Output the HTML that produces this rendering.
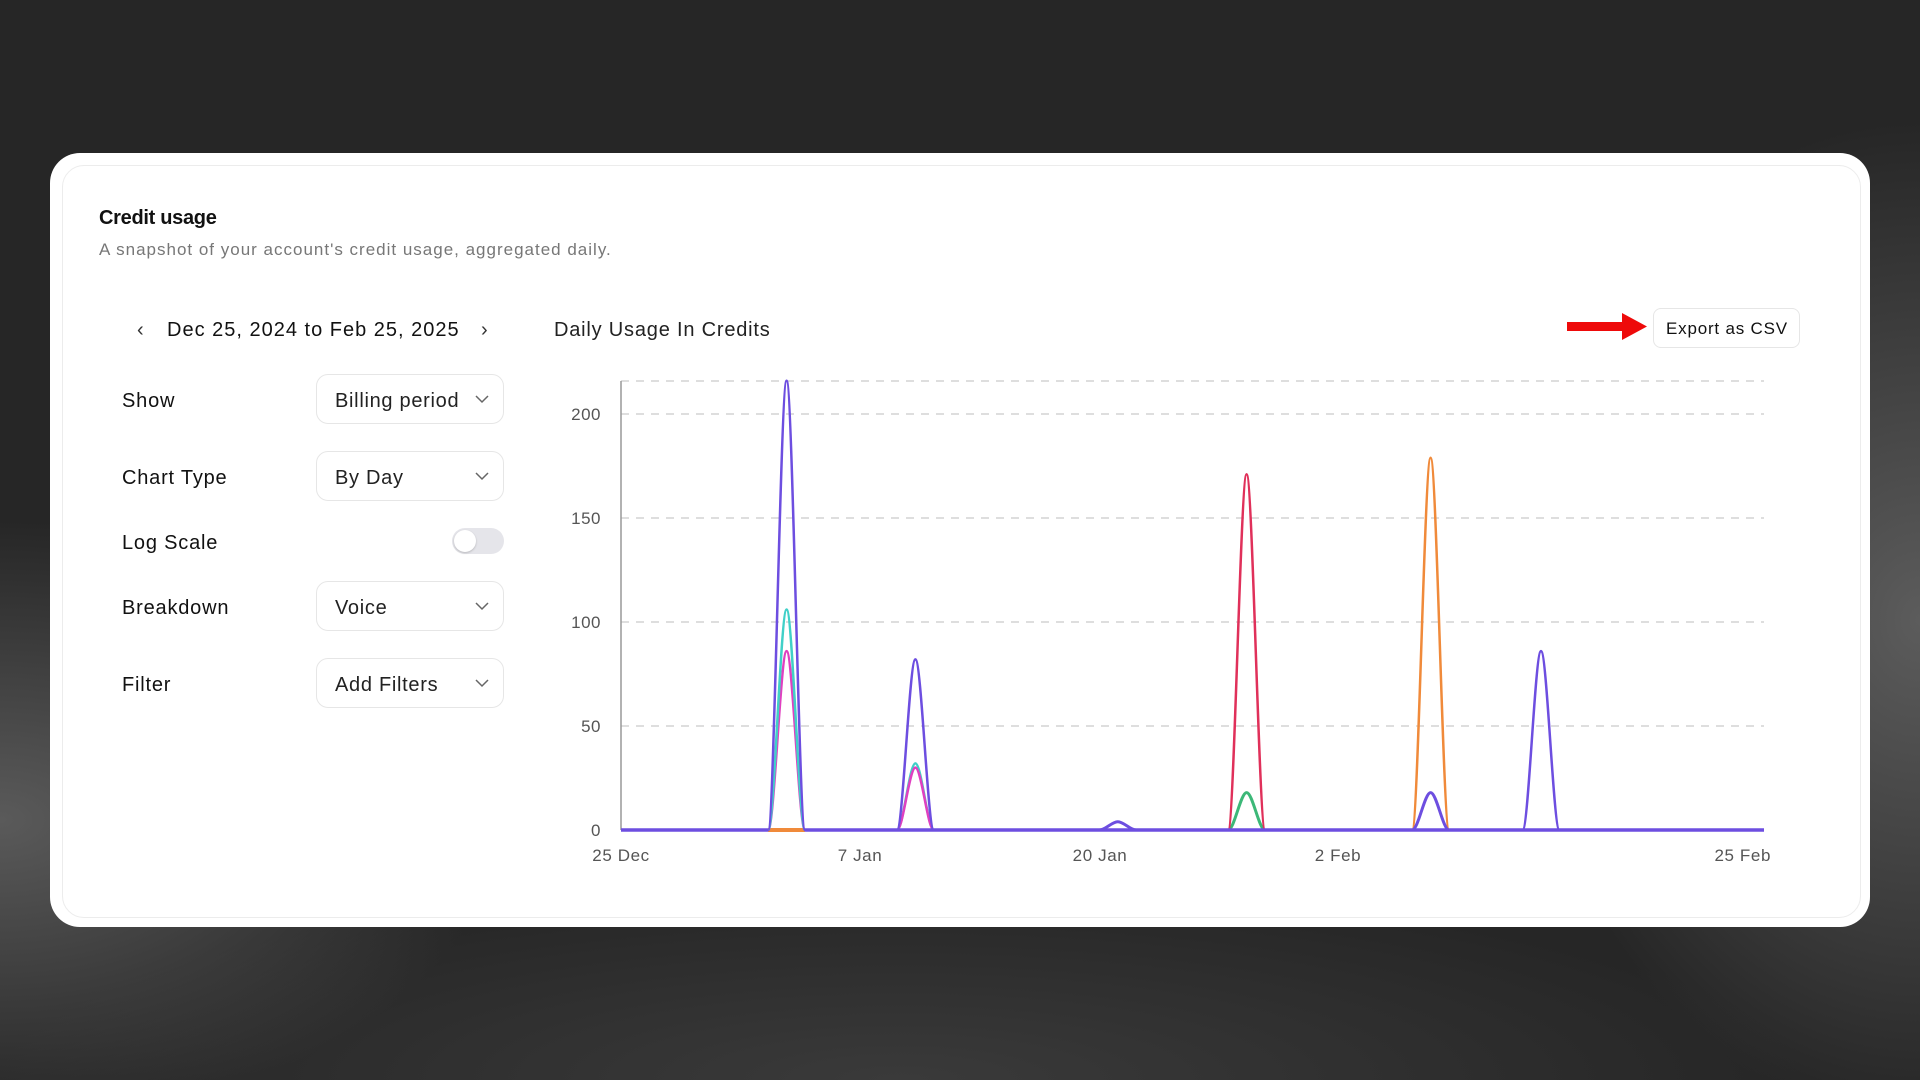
<!DOCTYPE html>
<html><head><meta charset="utf-8"><style>
html,body{margin:0;padding:0}
body{width:1920px;height:1080px;overflow:hidden;position:relative;font-family:"Liberation Sans",sans-serif;
background:radial-gradient(ellipse 500px 300px at 0px 820px,#5a5a5a,rgba(60,60,60,0) 100%),radial-gradient(ellipse 400px 500px at 1920px 620px,#5c5c5c,rgba(60,60,60,0) 100%),radial-gradient(ellipse 900px 200px at 900px 1080px,#3a3a3a,rgba(40,40,40,0)),#262626;}
.card{position:absolute;left:50px;top:153px;width:1820px;height:774px;background:#fff;border-radius:30px}
.inner{position:absolute;left:62px;top:165px;width:1797px;height:751px;border:1.5px solid #ececec;border-radius:22px}
.t{position:absolute;white-space:nowrap;line-height:1}
.dd{position:absolute;left:316px;width:188px;height:50px;border:1.5px solid #e6e6e6;border-radius:12px;box-sizing:border-box;font-size:20px;color:#222;letter-spacing:0.7px}
.dd span{position:absolute;left:18px;top:15px}
.dd svg{position:absolute;right:14px;top:20px}
.lab{position:absolute;left:122px;font-size:20px;color:#111;letter-spacing:0.8px}
</style></head><body>
<div class="card"></div><div class="inner"></div>
<div class="t" style="left:99px;top:208px;font-size:20px;font-weight:bold;color:#111;letter-spacing:-0.3px">Credit usage</div>
<div class="t" style="left:99px;top:241px;font-size:17px;color:#777;letter-spacing:1px">A snapshot of your account's credit usage, aggregated daily.</div>
<div class="t" style="left:137px;top:320px;font-size:20px;color:#333">‹</div>
<div class="t" style="left:167px;top:320px;font-size:20px;color:#111;letter-spacing:1px">Dec 25, 2024 to Feb 25, 2025</div>
<div class="t" style="left:481px;top:320px;font-size:20px;color:#333">›</div>
<div class="t" style="left:554px;top:320px;font-size:20px;color:#222;letter-spacing:0.8px">Daily Usage In Credits</div>
<div class="lab t" style="top:391px">Show</div>
<div class="lab t" style="top:468px">Chart Type</div>
<div class="lab t" style="top:533px">Log Scale</div>
<div class="lab t" style="top:598px">Breakdown</div>
<div class="lab t" style="top:675px">Filter</div>
<div class="dd" style="top:374px"><span>Billing period</span><svg width="14" height="9"><path d="M1 1L7 7L13 1" stroke="#666" stroke-width="1.5" fill="none"/></svg></div>
<div class="dd" style="top:451px"><span>By Day</span><svg width="14" height="9"><path d="M1 1L7 7L13 1" stroke="#666" stroke-width="1.5" fill="none"/></svg></div>
<div class="dd" style="top:581px"><span>Voice</span><svg width="14" height="9"><path d="M1 1L7 7L13 1" stroke="#666" stroke-width="1.5" fill="none"/></svg></div>
<div class="dd" style="top:658px"><span>Add Filters</span><svg width="14" height="9"><path d="M1 1L7 7L13 1" stroke="#666" stroke-width="1.5" fill="none"/></svg></div>
<div style="position:absolute;left:452px;top:528px;width:52px;height:26px;border-radius:13px;background:#e5e5ea"></div>
<div style="position:absolute;left:454px;top:530px;width:22px;height:22px;border-radius:11px;background:#fff;box-shadow:0 1px 2px rgba(0,0,0,.2)"></div>
<div style="position:absolute;left:1653px;top:308px;width:147px;height:40px;border:1.5px solid #e6e6e6;border-radius:8px;box-sizing:border-box"></div>
<div class="t" style="left:1666px;top:320px;font-size:17px;color:#111;letter-spacing:0.8px">Export as CSV</div>
<svg width="1920" height="1080" style="position:absolute;left:0;top:0">
<path d="M1567 322H1622V313L1647 326.5L1622 340V331H1567Z" fill="#ee0a0a"/>
<g stroke="#d4d4d4" stroke-width="1.5" stroke-dasharray="8 7">
<line x1="621" y1="381" x2="1764" y2="381"/><line x1="621" y1="414" x2="1764" y2="414"/><line x1="621" y1="518" x2="1764" y2="518"/><line x1="621" y1="622" x2="1764" y2="622"/><line x1="621" y1="726" x2="1764" y2="726"/>
</g>
<line x1="621" y1="381" x2="621" y2="830" stroke="#999" stroke-width="1.5"/>
<g font-family="Liberation Sans,sans-serif" font-size="17" fill="#555" text-anchor="end" letter-spacing="0.5">
<text x="601" y="420">200</text><text x="601" y="524">150</text><text x="601" y="628">100</text><text x="601" y="732">50</text><text x="601" y="836">0</text>
</g>
<g font-family="Liberation Sans,sans-serif" font-size="17" fill="#555" text-anchor="middle" letter-spacing="0.6">
<text x="621" y="861">25 Dec</text><text x="860" y="861">7 Jan</text><text x="1100" y="861">20 Jan</text><text x="1338" y="861">2 Feb</text><text x="1771" y="861" text-anchor="end">25 Feb</text>
</g>
<g fill="none" stroke-width="2.5">
<line x1="768" y1="830" x2="805" y2="830" stroke="#f08a3a" stroke-width="4"/>
<path stroke="#e040c0" d="M768.2 830C774.3 830 780.5 651.1 786.6 651.1C792.7 651.1 798.9 830 805 830"/>
<path stroke="#40d0c8" d="M768.2 830C774.3 830 780.5 609.5 786.6 609.5C792.7 609.5 798.9 830 805 830"/>
<path stroke="#6d4ee0" d="M768.2 830C774.3 830 780.5 380.7 786.6 380.7C792.7 380.7 798.9 830 805 830"/>
<path stroke="#40d0c8" d="M897 830C903.1 830 909.3 763.4 915.4 763.4C921.5 763.4 927.7 830 933.8 830"/>
<path stroke="#e040c0" d="M897 830C903.1 830 909.3 767.6 915.4 767.6C921.5 767.6 927.7 830 933.8 830"/>
<path stroke="#6d4ee0" d="M897 830C903.1 830 909.3 659.4 915.4 659.4C921.5 659.4 927.7 830 933.8 830"/>
<path stroke="#6d4ee0" stroke-width="3" d="M1099.4 830C1105.5 830 1111.7 821.7 1117.8 821.7C1123.9 821.7 1130.1 830 1136.2 830"/>
<path stroke="#3cb878" stroke-width="3" d="M1228.2 830C1234.3 830 1240.5 792.6 1246.6 792.6C1252.7 792.6 1258.9 830 1265 830"/>
<path stroke="#e0305a" d="M1228.2 830C1234.3 830 1240.5 474.3 1246.6 474.3C1252.7 474.3 1258.9 830 1265 830"/>
<path stroke="#f08a3a" d="M1412.2 830C1418.3 830 1424.5 457.7 1430.6 457.7C1436.7 457.7 1442.9 830 1449 830"/>
<path stroke="#6d4ee0" stroke-width="3" d="M1412.2 830C1418.3 830 1424.5 792.6 1430.6 792.6C1436.7 792.6 1442.9 830 1449 830"/>
<path stroke="#6d4ee0" d="M1522.6 830C1528.7 830 1534.9 651.1 1541 651.1C1547.1 651.1 1553.3 830 1559.4 830"/>
</g>
<line x1="621" y1="830" x2="768" y2="830" stroke="#6d4ee0" stroke-width="3.5"/>
<line x1="805" y1="830" x2="1764" y2="830" stroke="#6d4ee0" stroke-width="3.5"/>
</svg>
</body></html>
